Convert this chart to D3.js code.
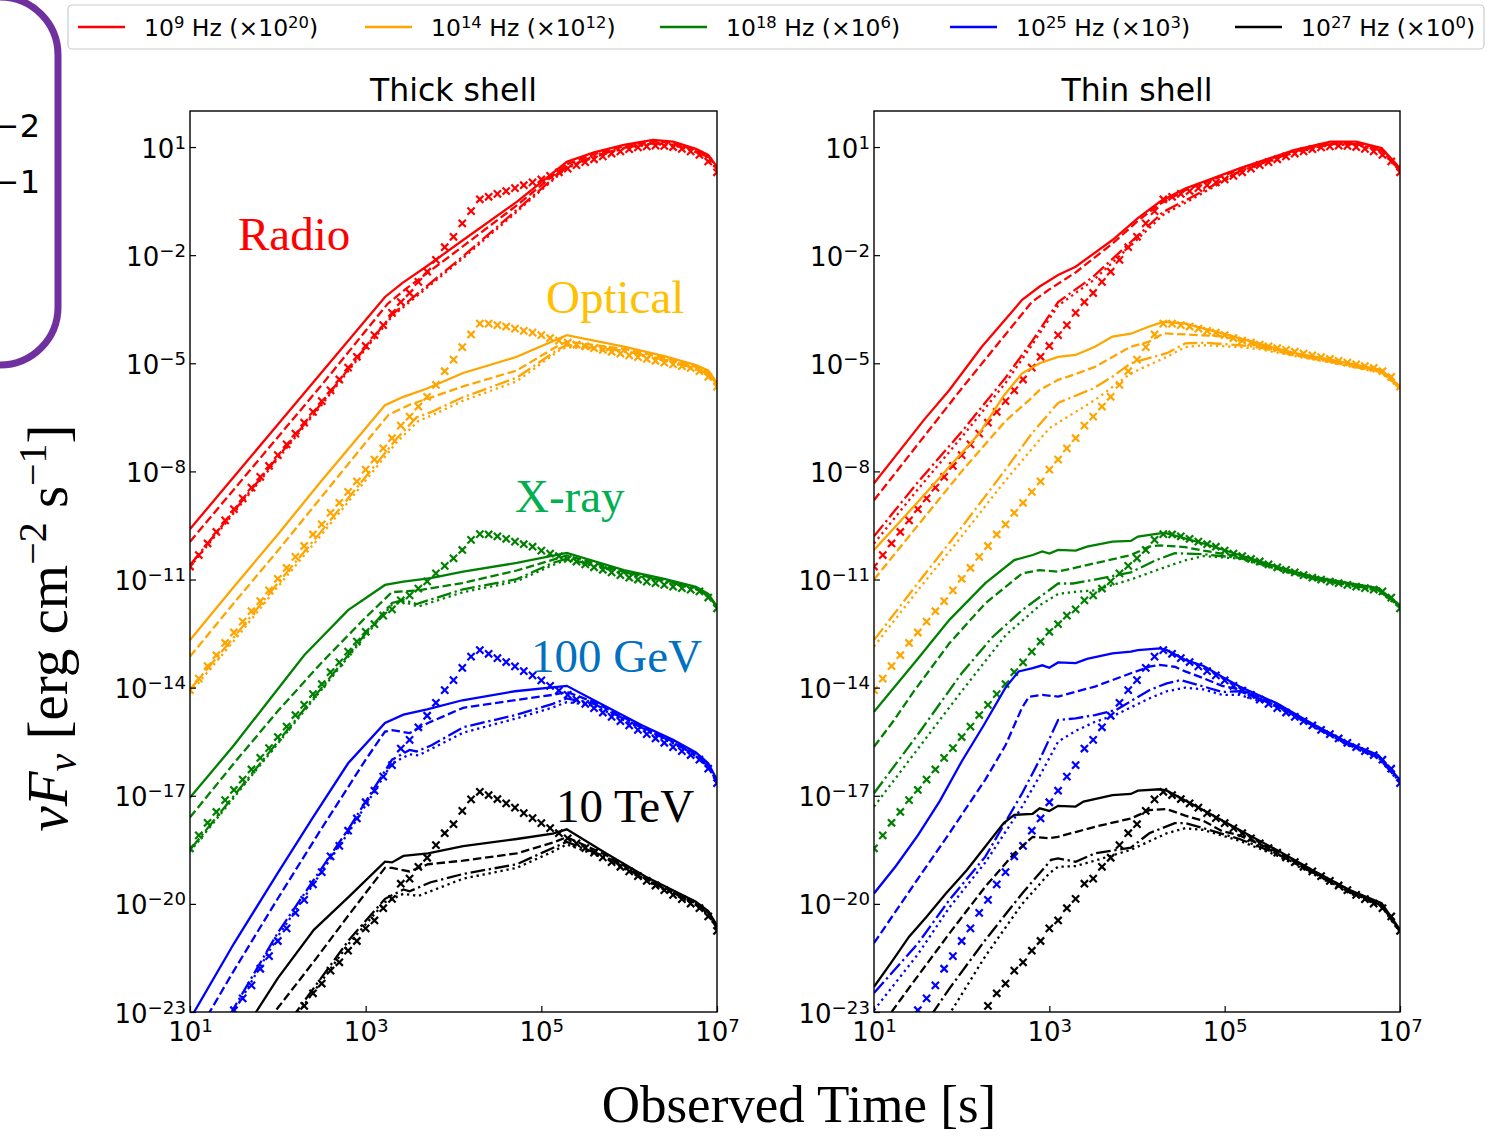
<!DOCTYPE html>
<html>
<head>
<meta charset="utf-8">
<script src="https://cdn.jsdelivr.net/npm/d3@7"></script>
<style>
  body { margin: 0; background: #fff; }
  svg { display: block; }
</style>
</head>
<body>
<script>
(function (d3) {
  "use strict";

  /***** Data : every value is log10 *****/
  // x-marker series share one time grid, log10(t / s)
  var markerLogT = [1.0,1.1,1.2,1.3,1.4,1.5,1.6,1.7,1.8,1.9,
                    2.0,2.1,2.2,2.3,2.4,2.5,2.6,2.7,2.8,2.9,
                    3.0,3.1,3.2,3.3,3.4,3.5,3.6,3.7,3.8,3.9,
                    4.0,4.1,4.2,4.3,4.4,4.5,4.6,4.7,4.8,4.9,
                    5.0,5.1,5.2,5.3,5.4,5.5,5.6,5.7,5.8,5.9,
                    6.0,6.1,6.2,6.3,6.4,6.5,6.6,6.7,6.8,6.9,
                    7.0];
  var radioMarkers = [-10.64,-10.32,-10.0,-9.68,-9.36,-9.05,-8.75,-8.45,-8.15,-7.85,
                      -7.55,-7.25,-6.95,-6.65,-6.35,-6.05,-5.75,-5.45,-5.12,-4.82,
                      -4.52,-4.22,-3.94,-3.6,-3.3,-3.05,-2.74,-2.46,-2.13,-1.78,
                      -1.49,-1.12,-0.78,-0.45,-0.38,-0.3,-0.22,-0.14,-0.06,0.02,
                      0.1,0.2,0.3,0.4,0.5,0.58,0.66,0.74,0.82,0.88,
                      0.94,0.99,1.02,1.04,1.03,1.0,0.95,0.88,0.78,0.6,
                      0.3];
  var opticalMarkers = [-14.07,-13.75,-13.4,-13.1,-12.76,-12.47,-12.17,-11.88,-11.6,-11.3,
                        -10.98,-10.68,-10.37,-10.07,-9.75,-9.47,-9.15,-8.87,-8.57,-8.28,
                        -7.95,-7.67,-7.36,-7.08,-6.73,-6.48,-6.2,-5.93,-5.6,-5.22,
                        -4.9,-4.55,-4.2,-3.9,-3.9,-3.94,-3.98,-4.04,-4.1,-4.15,
                        -4.22,-4.3,-4.37,-4.43,-4.48,-4.53,-4.58,-4.63,-4.68,-4.73,
                        -4.78,-4.83,-4.88,-4.93,-4.98,-5.03,-5.08,-5.13,-5.22,-5.38,
                        -5.65];
  var xrayMarkers = [-18.46,-18.1,-17.75,-17.45,-17.12,-16.84,-16.55,-16.27,-15.95,-15.68,
                     -15.37,-15.08,-14.76,-14.48,-14.18,-13.9,-13.57,-13.3,-13.0,-12.72,
                     -12.45,-12.24,-12.0,-11.83,-11.58,-11.44,-11.25,-11.05,-10.83,-10.62,
                     -10.41,-10.18,-9.9,-9.74,-9.75,-9.8,-9.87,-9.95,-10.02,-10.09,
                     -10.2,-10.28,-10.35,-10.43,-10.5,-10.58,-10.66,-10.73,-10.8,-10.88,
                     -10.95,-11.0,-11.06,-11.1,-11.15,-11.2,-11.24,-11.28,-11.33,-11.5,
                     -11.8];
  var gevMarkers = [null,null,null,null,-23.35,-22.95,-22.62,-22.26,-21.8,-21.45,
                    -21.03,-20.68,-20.25,-19.89,-19.46,-19.12,-18.68,-18.39,-17.97,-17.63,
                    -17.18,-16.86,-16.47,-16.15,-15.69,-15.45,-15.1,-14.78,-14.42,-14.07,
                    -13.79,-13.45,-13.14,-12.96,-13.06,-13.18,-13.29,-13.41,-13.54,-13.66,
                    -13.8,-13.95,-14.08,-14.2,-14.33,-14.45,-14.57,-14.69,-14.81,-14.93,
                    -15.05,-15.17,-15.29,-15.41,-15.53,-15.65,-15.76,-15.87,-16.0,-16.25,
                    -16.65];
  var tevMarkers = [null,null,null,null,null,null,null,null,null,null,
                    null,null,-23.15,-22.83,-22.48,-22.21,-21.85,-21.62,-21.3,-21.03,
                    -20.68,-20.46,-20.12,-19.86,-19.44,-19.3,-18.97,-18.72,-18.37,-18.04,
                    -17.79,-17.42,-17.1,-16.89,-16.98,-17.09,-17.21,-17.33,-17.48,-17.62,
                    -17.76,-17.9,-18.04,-18.18,-18.32,-18.45,-18.58,-18.71,-18.84,-18.97,
                    -19.1,-19.23,-19.36,-19.49,-19.62,-19.75,-19.87,-19.99,-20.12,-20.35,
                    -20.75];

  // curves per band, in the order solid, dashed, dash-dot, dotted : [log10 t, log10 nuFnu]
  var thickRadio = [
    [[1,-9.6],[1.5,-8.15],[2,-6.7],[2.5,-5.25],[3,-3.8],[3.22,-3.16],[3.42,-2.77],[3.7,-2.3],[4.11,-1.58],[4.72,-0.52],[5.29,0.59],[5.6,0.85],[5.94,1.06],[6.27,1.2],[6.5,1.15],[6.76,0.95],[6.9,0.78],[7,0.45]],
    [[1,-9.95],[1.5,-8.5],[2,-7.05],[2.5,-5.6],[3,-4.1],[3.25,-3.35],[3.45,-2.95],[3.7,-2.5],[4.11,-1.75],[4.72,-0.62],[5.29,0.52],[5.6,0.8],[5.94,1.02],[6.27,1.16],[6.5,1.12],[6.76,0.92],[6.9,0.75],[7,0.42]],
    [[1,-10.6],[1.5,-9.1],[2,-7.6],[2.5,-6.1],[3,-4.55],[3.3,-3.65],[3.7,-2.85],[4.1,-2.05],[4.6,-1.0],[5.13,0.12],[5.29,0.45],[5.6,0.74],[5.94,0.98],[6.27,1.1],[6.5,1.07],[6.76,0.88],[6.9,0.72],[7,0.38]],
    [[1,-10.65],[1.5,-9.15],[2,-7.65],[2.5,-6.15],[3,-4.6],[3.3,-3.7],[3.7,-2.9],[4.1,-2.1],[4.6,-1.05],[5.13,0.08],[5.29,0.42],[5.6,0.72],[5.94,0.96],[6.27,1.08],[6.5,1.05],[6.76,0.86],[6.9,0.7],[7,0.35]]
  ];
  var thickOptical = [
    [[1,-12.68],[1.5,-11.2],[2,-9.75],[2.5,-8.25],[3,-6.8],[3.22,-6.16],[3.43,-5.93],[3.7,-5.7],[4.11,-5.27],[4.72,-4.82],[5.29,-4.22],[5.94,-4.54],[6.4,-4.8],[6.76,-5.05],[6.9,-5.2],[7,-5.55]],
    [[1,-13.14],[1.5,-11.65],[2,-10.2],[2.5,-8.7],[3,-7.2],[3.26,-6.43],[3.5,-6.15],[4.1,-5.65],[4.72,-5.2],[5.2,-4.5],[5.29,-4.4],[5.94,-4.6],[6.4,-4.85],[6.76,-5.1],[6.9,-5.25],[7,-5.6]],
    [[1,-14.05],[1.5,-12.6],[2,-11.1],[2.5,-9.65],[3,-8.15],[3.35,-7.1],[3.58,-6.5],[3.75,-6.35],[4.1,-5.95],[4.72,-5.4],[5.2,-4.6],[5.29,-4.5],[5.94,-4.65],[6.4,-4.9],[6.76,-5.15],[6.9,-5.3],[7,-5.62]],
    [[1,-14.15],[1.5,-12.7],[2,-11.2],[2.5,-9.75],[3,-8.25],[3.35,-7.2],[3.6,-6.6],[3.75,-6.45],[4.1,-6.05],[4.72,-5.5],[5.2,-4.65],[5.29,-4.55],[5.94,-4.68],[6.4,-4.93],[6.76,-5.18],[6.9,-5.33],[7,-5.64]]
  ];
  var thickXray = [
    [[1,-17.05],[1.5,-15.6],[1.9,-14.35],[2.3,-13.1],[2.8,-11.85],[3.22,-11.15],[3.43,-11.06],[3.74,-10.96],[4.11,-10.78],[4.72,-10.54],[5.29,-10.26],[5.94,-10.74],[6.4,-10.98],[6.76,-11.2],[6.9,-11.4],[7,-11.75]],
    [[1,-17.6],[1.5,-16.1],[2,-14.65],[2.5,-13.3],[3,-12.05],[3.3,-11.35],[3.6,-11.3],[4.1,-11.1],[4.72,-10.75],[5.2,-10.4],[5.29,-10.33],[5.94,-10.78],[6.4,-11.02],[6.76,-11.23],[6.9,-11.43],[7,-11.77]],
    [[1,-18.5],[1.5,-17.0],[2,-15.5],[2.5,-14.0],[3,-12.5],[3.3,-11.65],[3.43,-11.57],[3.58,-11.68],[4.11,-11.27],[4.72,-10.99],[5.13,-10.54],[5.29,-10.42],[5.94,-10.8],[6.4,-11.04],[6.76,-11.25],[6.9,-11.45],[7,-11.78]],
    [[1,-18.55],[1.5,-17.05],[2,-15.55],[2.5,-14.05],[3,-12.55],[3.3,-11.7],[3.43,-11.62],[3.6,-11.75],[4.11,-11.35],[4.72,-11.05],[5.13,-10.6],[5.29,-10.45],[5.94,-10.82],[6.4,-11.06],[6.76,-11.27],[6.9,-11.47],[7,-11.8]]
  ];
  var thickGev = [
    [[1,-23.2],[1.5,-21.1],[2,-19.14],[2.4,-17.6],[2.8,-16.1],[3.22,-14.98],[3.43,-14.75],[3.7,-14.6],[4.1,-14.35],[4.7,-14.1],[5.29,-13.95],[5.6,-14.35],[6.15,-15.05],[6.5,-15.45],[6.76,-15.8],[6.9,-16.1],[7,-16.56]],
    [[1.2,-23.1],[1.5,-21.85],[2,-19.85],[2.5,-17.9],[3.0,-16.0],[3.22,-15.22],[3.3,-15.18],[3.5,-15.26],[3.71,-14.98],[4.11,-14.56],[4.72,-14.34],[5.13,-14.2],[5.29,-14.12],[5.6,-14.4],[6.15,-15.1],[6.5,-15.5],[6.76,-15.85],[6.9,-16.15],[7,-16.6]],
    [[1.45,-23.1],[2,-20.8],[2.41,-19.33],[2.81,-17.9],[3.3,-16.0],[3.5,-15.73],[3.58,-15.77],[3.75,-15.6],[4.11,-15.1],[4.72,-14.75],[5.13,-14.45],[5.29,-14.3],[5.6,-14.45],[6.15,-15.12],[6.5,-15.52],[6.76,-15.88],[6.9,-16.18],[7,-16.62]],
    [[1.45,-23.2],[2,-20.9],[2.41,-19.43],[2.81,-18.0],[3.3,-16.1],[3.5,-15.85],[3.6,-15.88],[4.11,-15.25],[4.72,-14.85],[5.13,-14.55],[5.29,-14.4],[5.6,-14.5],[6.15,-15.15],[6.5,-15.55],[6.76,-15.9],[6.9,-16.2],[7,-16.64]]
  ];
  var thickTev = [
    [[1.7,-23.2],[2,-22.06],[2.41,-20.72],[2.81,-19.8],[3.22,-18.83],[3.3,-18.85],[3.43,-18.67],[3.71,-18.6],[4.11,-18.4],[4.72,-18.2],[5.13,-18.05],[5.29,-17.93],[5.74,-18.6],[6.19,-19.25],[6.76,-19.94],[6.9,-20.2],[7,-20.6]],
    [[1.9,-23.2],[2.41,-21.6],[2.81,-20.3],[3.22,-19.0],[3.3,-19.0],[3.5,-19.1],[3.71,-18.9],[4.11,-18.8],[4.72,-18.6],[5.13,-18.3],[5.29,-18.15],[5.74,-18.65],[6.19,-19.3],[6.76,-19.98],[6.9,-20.25],[7,-20.65]],
    [[2.15,-23.2],[2.81,-21.0],[3.22,-19.86],[3.43,-19.6],[3.5,-19.65],[3.74,-19.4],[4.11,-19.17],[4.72,-18.9],[5.13,-18.45],[5.29,-18.28],[5.74,-18.7],[6.19,-19.33],[6.76,-20.0],[6.9,-20.28],[7,-20.68]],
    [[2.15,-23.3],[2.81,-21.1],[3.22,-19.95],[3.43,-19.72],[3.6,-19.78],[4.11,-19.3],[4.72,-19.0],[5.13,-18.55],[5.29,-18.35],[5.74,-18.75],[6.19,-19.36],[6.76,-20.03],[6.9,-20.3],[7,-20.7]]
  ];

  var thinRadio = [
    [[1,-8.33],[1.57,-6.57],[1.86,-5.74],[2.23,-4.54],[2.69,-3.24],[2.89,-2.87],[3.1,-2.55],[3.3,-2.32],[3.72,-1.58],[4.01,-0.97],[4.26,-0.52],[4.55,-0.15],[5.17,0.41],[5.8,0.92],[6.21,1.15],[6.5,1.15],[6.79,0.97],[7,0.41]],
    [[1,-8.8],[1.5,-7.25],[2,-5.7],[2.5,-4.2],[2.8,-3.3],[3.0,-2.95],[3.3,-2.48],[3.72,-1.68],[4.01,-1.05],[4.26,-0.58],[4.55,-0.2],[5.17,0.38],[5.8,0.9],[6.21,1.12],[6.5,1.12],[6.79,0.94],[7,0.38]],
    [[1,-9.8],[1.5,-8.3],[2,-6.9],[2.5,-5.4],[2.8,-4.4],[3.1,-3.3],[3.3,-2.95],[3.5,-2.6],[3.9,-1.7],[4.3,-0.8],[4.6,-0.42],[5.17,0.33],[5.8,0.87],[6.21,1.08],[6.5,1.08],[6.79,0.9],[7,0.35]],
    [[1,-10.0],[1.5,-8.5],[2,-7.05],[2.5,-5.55],[2.8,-4.5],[3.1,-3.4],[3.3,-3.05],[3.5,-2.7],[3.9,-1.8],[4.3,-0.88],[4.6,-0.48],[5.17,0.3],[5.8,0.85],[6.21,1.06],[6.5,1.06],[6.79,0.88],[7,0.33]]
  ];
  var thinOptical = [
    [[1,-10.18],[1.5,-8.85],[1.86,-7.87],[2.2,-6.95],[2.48,-5.9],[2.69,-5.28],[2.89,-5.0],[3.1,-4.82],[3.3,-4.77],[3.52,-4.54],[3.72,-4.26],[3.93,-4.18],[4.14,-3.98],[4.3,-3.85],[4.55,-3.9],[4.97,-4.17],[5.38,-4.45],[5.8,-4.72],[6.21,-4.9],[6.79,-5.19],[7,-5.65]],
    [[1,-11.0],[1.5,-9.5],[2,-8.0],[2.5,-6.6],[2.77,-6.02],[2.89,-5.74],[3.1,-5.46],[3.3,-5.3],[3.52,-5.1],[3.93,-4.54],[4.14,-4.4],[4.3,-4.17],[4.55,-4.2],[4.97,-4.25],[5.38,-4.5],[5.8,-4.75],[6.21,-4.93],[6.79,-5.22],[7,-5.68]],
    [[1,-12.68],[1.5,-11.1],[2,-9.55],[2.5,-7.95],[2.8,-6.95],[3.1,-6.1],[3.27,-5.93],[3.5,-5.7],[3.72,-5.37],[3.93,-5.0],[4.34,-4.72],[4.55,-4.45],[4.76,-4.43],[5.17,-4.5],[5.38,-4.55],[5.8,-4.78],[6.21,-4.96],[6.79,-5.25],[7,-5.7]],
    [[1,-12.86],[1.5,-11.3],[2,-9.8],[2.5,-8.25],[3,-6.8],[3.3,-6.35],[3.52,-6.02],[3.93,-5.28],[4.34,-4.82],[4.55,-4.55],[4.76,-4.5],[5.17,-4.55],[5.38,-4.6],[5.8,-4.8],[6.21,-4.98],[6.79,-5.27],[7,-5.72]]
  ];
  var thinXray = [
    [[1,-14.67],[1.5,-13.2],[1.86,-12.12],[2.27,-11.1],[2.6,-10.46],[2.81,-10.32],[2.92,-10.22],[3.0,-10.28],[3.1,-10.18],[3.3,-10.2],[3.43,-10.09],[3.72,-9.95],[3.93,-9.93],[4.01,-9.81],[4.26,-9.72],[4.34,-9.72],[4.76,-10.0],[5.17,-10.32],[5.59,-10.64],[6.0,-10.92],[6.42,-11.1],[6.75,-11.24],[7,-11.71]],
    [[1,-15.64],[1.23,-14.9],[1.44,-14.15],[1.86,-12.77],[2.27,-11.66],[2.69,-10.83],[2.89,-10.74],[3.1,-10.78],[3.52,-10.55],[3.93,-10.32],[4.14,-10.09],[4.26,-10.05],[4.55,-10.1],[4.76,-10.2],[5.17,-10.36],[5.59,-10.67],[6.0,-10.95],[6.42,-11.13],[6.75,-11.27],[7,-11.74]],
    [[1,-16.93],[1.5,-15.3],[2,-13.6],[2.35,-12.6],[2.69,-11.85],[3.1,-11.11],[3.27,-11.11],[3.52,-11.0],[3.93,-10.8],[4.22,-10.46],[4.43,-10.27],[4.55,-10.28],[4.76,-10.3],[5.17,-10.4],[5.59,-10.7],[6.0,-10.97],[6.42,-11.15],[6.75,-11.29],[7,-11.76]],
    [[1,-17.3],[1.5,-15.7],[2,-14.1],[2.5,-12.55],[2.9,-11.7],[3.1,-11.4],[3.3,-11.34],[3.52,-11.3],[3.93,-11.0],[4.34,-10.64],[4.55,-10.47],[4.76,-10.35],[5.17,-10.42],[5.59,-10.72],[6.0,-10.99],[6.42,-11.17],[6.75,-11.31],[7,-11.78]]
  ];
  var thinGev = [
    [[1,-19.71],[1.25,-18.95],[1.5,-18.1],[1.75,-17.15],[2.0,-16.05],[2.25,-15.05],[2.5,-14.0],[2.65,-13.55],[2.81,-13.46],[2.92,-13.38],[3.0,-13.45],[3.1,-13.3],[3.3,-13.32],[3.43,-13.2],[3.72,-13.05],[3.93,-13.0],[4.01,-12.96],[4.26,-12.91],[4.34,-12.96],[4.55,-13.23],[4.76,-13.4],[4.97,-13.7],[5.17,-13.97],[5.59,-14.43],[6.0,-15.0],[6.42,-15.54],[6.75,-15.87],[7,-16.56]],
    [[1,-21.09],[1.44,-19.52],[1.86,-18.04],[2.27,-16.55],[2.5,-15.6],[2.69,-14.55],[2.77,-14.25],[2.92,-14.2],[3.1,-14.25],[3.52,-13.97],[3.93,-13.6],[4.14,-13.42],[4.26,-13.37],[4.43,-13.42],[4.55,-13.55],[4.76,-13.74],[4.97,-13.95],[5.17,-14.05],[5.59,-14.47],[6.0,-15.03],[6.42,-15.57],[6.75,-15.9],[7,-16.59]],
    [[1,-22.47],[1.5,-21.1],[1.86,-19.89],[2.27,-18.69],[2.69,-16.93],[2.89,-16.0],[3.1,-14.9],[3.3,-14.85],[3.52,-14.76],[3.76,-14.62],[4.14,-14.07],[4.34,-13.88],[4.5,-13.79],[4.76,-13.97],[4.97,-14.12],[5.17,-14.1],[5.59,-14.5],[6.0,-15.05],[6.42,-15.6],[6.75,-15.93],[7,-16.62]],
    [[1,-22.95],[1.5,-21.4],[1.86,-20.1],[2.27,-18.85],[2.69,-17.3],[2.89,-16.45],[3.1,-15.5],[3.3,-15.2],[3.52,-14.95],[3.76,-14.75],[4.14,-14.3],[4.34,-14.1],[4.55,-14.0],[4.76,-14.05],[4.97,-14.2],[5.17,-14.2],[5.59,-14.52],[6.0,-15.07],[6.42,-15.62],[6.75,-15.95],[7,-16.64]]
  ];
  var thinTev = [
    [[1,-22.3],[1.19,-21.65],[1.4,-20.91],[1.6,-20.36],[1.82,-19.71],[2.06,-19.06],[2.27,-18.41],[2.48,-17.76],[2.6,-17.53],[2.81,-17.5],[2.89,-17.35],[3.0,-17.42],[3.1,-17.28],[3.3,-17.3],[3.39,-17.16],[3.72,-16.98],[3.93,-16.95],[4.01,-16.86],[4.26,-16.82],[4.34,-16.86],[4.76,-17.4],[5.17,-17.95],[5.59,-18.5],[6.0,-19.06],[6.42,-19.61],[6.79,-19.98],[7,-20.72]],
    [[1.2,-23.0],[1.44,-22.2],[1.86,-20.82],[2.27,-19.52],[2.6,-18.6],[2.81,-18.14],[3.0,-18.18],[3.1,-18.14],[3.31,-18.0],[3.52,-17.86],[3.93,-17.63],[4.14,-17.4],[4.34,-17.37],[4.55,-17.55],[4.76,-17.7],[4.97,-17.98],[5.17,-18.1],[5.59,-18.55],[6.0,-19.1],[6.42,-19.64],[6.79,-20.01],[7,-20.75]],
    [[1.65,-23.1],[1.86,-22.35],[2.27,-21.0],[2.69,-19.71],[3.02,-18.78],[3.1,-18.74],[3.3,-18.83],[3.52,-18.6],[3.93,-18.44],[4.14,-18.04],[4.43,-17.76],[4.55,-17.76],[4.76,-17.9],[5.17,-18.2],[5.59,-18.6],[6.0,-19.13],[6.42,-19.67],[6.79,-20.04],[7,-20.78]],
    [[1.85,-23.1],[2.27,-21.45],[2.69,-20.0],[3.0,-19.15],[3.1,-18.97],[3.3,-18.95],[3.52,-18.8],[3.93,-18.5],[4.34,-18.04],[4.55,-17.9],[4.76,-17.95],[5.17,-18.25],[5.59,-18.65],[6.0,-19.16],[6.42,-19.7],[6.79,-20.07],[7,-20.8]]
  ];

  var bandNames = ["Radio", "Optical", "X-ray", "100 GeV", "10 TeV"];
  var freqExp = ["9", "14", "18", "25", "27"];
  var scaleExp = ["20", "12", "6", "3", "0"];
  var xTickExp = [1, 3, 5, 7];
  var yTickExp = [-23, -20, -17, -14, -11, -8, -5, -2, 1];

  /***** Style *****/
  var lineColors = ["#ff0000", "#ffa500", "#008000", "#0000ff", "#000000"];
  var labelColors = ["#ff0000", "#ffc000", "#00b050", "#0070c0", "#000000"];
  var lineWidth = 2.3;
  var dashes = [null, "8.5,3.7", "14.7,3.7,2.3,3.7", "2.3,3.8"];
  var sansFont = "'DejaVu Sans', sans-serif";
  var serifFont = "'Liberation Serif', 'Times New Roman', serif";
  var plotTop = 111, plotBottom = 1012;

  var svg = d3.select("body").append("svg")
      .attr("width", 1512)
      .attr("height", 1138)
      .style("font-family", sansFont);

  function pow10(v) { return Math.pow(10, v); }

  function powLabel(text, base, exp, rise) {
    text.text(null);
    text.append("tspan").text(base);
    text.append("tspan").attr("dy", -rise).attr("font-size", "0.7em").text(exp);
  }

  function expText(e) { return e < 0 ? "\u2212" + (-e) : String(e); }

  /***** Panels *****/
  var panels = [
    { title: "Thick shell", left: 190, right: 717, bands: [thickRadio, thickOptical, thickXray, thickGev, thickTev] },
    { title: "Thin shell", left: 874, right: 1400, bands: [thinRadio, thinOptical, thinXray, thinGev, thinTev] }
  ];
  var markerSets = [radioMarkers, opticalMarkers, xrayMarkers, gevMarkers, tevMarkers];

  panels.forEach(function (p, pi) {
    var w = p.right - p.left, h = plotBottom - plotTop;
    var x = d3.scaleLog().domain([1e1, 1e7]).range([0, w]);
    var y = d3.scaleLog().domain([1e-23, 1e2]).range([h, 0]);

    var g = svg.append("g").attr("transform", "translate(" + p.left + "," + plotTop + ")");
    g.append("clipPath").attr("id", "clip" + pi)
      .append("rect").attr("width", w).attr("height", h);
    var plot = g.append("g").attr("clip-path", "url(#clip" + pi + ")");

    var line = d3.line()
        .defined(function (d) { return d[1] !== null; })
        .x(function (d) { return x(pow10(d[0])); })
        .y(function (d) { return y(pow10(d[1])); });

    p.bands.forEach(function (band, bi) {
      band.forEach(function (pts, si) {
        plot.append("path")
          .attr("d", line(pts))
          .attr("fill", "none")
          .attr("stroke", lineColors[bi])
          .attr("stroke-width", lineWidth)
          .attr("stroke-dasharray", dashes[si]);
      });
      var marks = markerLogT.map(function (t, i) { return [t, markerSets[bi][i]]; })
          .filter(function (d) { return d[1] !== null; });
      plot.selectAll(null).data(marks).enter().append("path")
        .attr("transform", function (d) {
          return "translate(" + x(pow10(d[0])) + "," + y(pow10(d[1])) + ")";
        })
        .attr("d", "M-3.6,-3.6L3.6,3.6M-3.6,3.6L3.6,-3.6")
        .attr("fill", "none")
        .attr("stroke", lineColors[bi])
        .attr("stroke-width", 2.2);
    });

    g.append("rect")
      .attr("width", w).attr("height", h)
      .attr("fill", "none").attr("stroke", "#000").attr("stroke-width", 1.4);

    // axes, ticks pointing inward
    var yAxis = d3.axisLeft(y).tickValues(yTickExp.map(pow10))
        .tickSizeInner(-6).tickSizeOuter(0).tickPadding(4);
    var ya = g.append("g").call(yAxis)
        .attr("font-family", sansFont).attr("font-size", 26);
    ya.select(".domain").remove();
    ya.selectAll(".tick line").attr("stroke", "#000").attr("stroke-width", 1.2);
    ya.selectAll(".tick text").attr("dy", null).attr("y", 10).attr("fill", "#000")
      .each(function (d) { powLabel(d3.select(this), "10", expText(Math.round(Math.log10(d))), 9); });

    var xAxis = d3.axisBottom(x).tickValues(xTickExp.map(pow10))
        .tickSizeInner(-6).tickSizeOuter(0).tickPadding(4);
    var xa = g.append("g").attr("transform", "translate(0," + h + ")").call(xAxis)
        .attr("font-family", sansFont).attr("font-size", 26);
    xa.select(".domain").remove();
    xa.selectAll(".tick line").attr("stroke", "#000").attr("stroke-width", 1.2);
    xa.selectAll(".tick text").attr("dy", null).attr("y", 29).attr("fill", "#000")
      .each(function (d) { powLabel(d3.select(this), "10", expText(Math.round(Math.log10(d))), 9); });

    svg.append("text")
      .attr("x", (p.left + p.right) / 2).attr("y", 101)
      .attr("text-anchor", "middle").attr("font-size", 31.5)
      .text(p.title);
  });

  /***** Band labels (left panel) *****/
  var bandLabelPos = [[238, 250], [546, 313], [515, 512], [531, 672], [556, 822]];
  bandNames.forEach(function (name, i) {
    svg.append("text")
      .attr("x", bandLabelPos[i][0]).attr("y", bandLabelPos[i][1])
      .attr("font-family", serifFont).attr("font-size", 47)
      .attr("fill", labelColors[i])
      .text(name);
  });

  /***** Axis titles *****/
  svg.append("text")
    .attr("x", 799).attr("y", 1122)
    .attr("text-anchor", "middle")
    .attr("font-family", serifFont).attr("font-size", 53)
    .text("Observed Time [s]");

  var yl = svg.append("text")
      .attr("transform", "translate(67,628) rotate(-90)")
      .attr("text-anchor", "middle")
      .attr("font-family", serifFont).attr("font-size", 57);
  yl.append("tspan").attr("font-style", "italic").text("\u03bdF");
  yl.append("tspan").attr("font-style", "italic").attr("font-size", "0.7em").attr("dy", 9).text("\u03bd");
  yl.append("tspan").attr("dy", -9).text(" [erg cm");
  yl.append("tspan").attr("font-size", "0.7em").attr("dy", -21).text("\u22122");
  yl.append("tspan").attr("dy", 21).text(" s");
  yl.append("tspan").attr("font-size", "0.7em").attr("dy", -21).text("\u22121");
  yl.append("tspan").attr("dy", 21).text("]");

  /***** Legend *****/
  var legend = svg.append("g");
  legend.append("rect")
    .attr("x", 68).attr("y", 5).attr("width", 1416).attr("height", 44).attr("rx", 4)
    .attr("fill", "#fff").attr("stroke", "#cccccc").attr("stroke-width", 1.2);
  var legendX = [78, 365, 660, 950, 1235];
  freqExp.forEach(function (fe, i) {
    legend.append("line")
      .attr("x1", legendX[i]).attr("x2", legendX[i] + 47)
      .attr("y1", 27).attr("y2", 27)
      .attr("stroke", lineColors[i]).attr("stroke-width", lineWidth);
    var t = legend.append("text")
        .attr("x", legendX[i] + 66).attr("y", 36).attr("font-size", 23.5);
    t.append("tspan").text("10");
    t.append("tspan").attr("dy", -8).attr("font-size", "0.7em").text(fe);
    t.append("tspan").attr("dy", 8).text(" Hz (\u00d710");
    t.append("tspan").attr("dy", -8).attr("font-size", "0.7em").text(scaleExp[i]);
    t.append("tspan").attr("dy", 8).text(")");
  });

  /***** Clipped box from the neighbouring figure *****/
  svg.append("rect")
    .attr("x", -300).attr("y", -3).attr("width", 358).attr("height", 368).attr("rx", 58)
    .attr("fill", "none").attr("stroke", "#7030a0").attr("stroke-width", 7);
  [["\u22122", 137], ["\u22121", 193]].forEach(function (d) {
    svg.append("text")
      .attr("x", 40).attr("y", d[1])
      .attr("text-anchor", "end").attr("font-size", 32)
      .text(d[0]);
  });

})(d3);
</script>
</body>
</html>
